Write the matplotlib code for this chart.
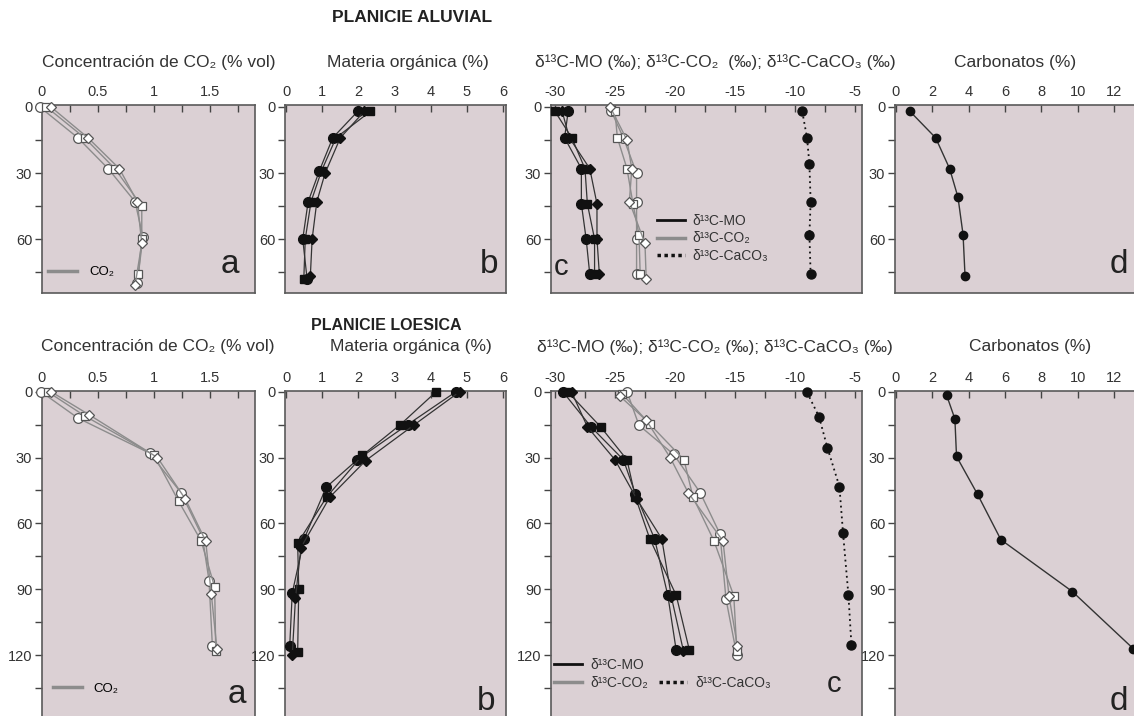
import matplotlib
matplotlib.use('Agg')
import matplotlib.pyplot as plt
from matplotlib.lines import Line2D
from matplotlib.ticker import MultipleLocator

plt.rcParams['font.family'] = ['Liberation Sans', 'DejaVu Sans']
plt.rcParams['axes.unicode_minus'] = False

W, H = 1134, 716

# ---- PLANICIE ALUVIAL (top row) ----
al_co2_depth = [[0, 14, 28, 43, 59, 80], [0, 14, 28, 45, 60, 76], [0, 14, 28, 43, 62, 81]]
al_co2 = [[-0.02, 0.32, 0.59, 0.83, 0.90, 0.85],
          [0.04, 0.38, 0.65, 0.89, 0.89, 0.86],
          [0.08, 0.41, 0.69, 0.85, 0.89, 0.83]]

al_mo_depth = [[2, 14, 29, 43, 60, 78], [2, 14, 29, 43, 60, 78], [2, 14, 30, 43, 60, 77]]
al_mo = [[1.98, 1.29, 0.92, 0.61, 0.46, 0.58],
         [2.33, 1.38, 0.98, 0.69, 0.53, 0.49],
         [2.16, 1.50, 1.08, 0.85, 0.72, 0.67]]

al_d13mo_depth = [[2, 14, 28, 44, 60, 76], [2, 14, 28, 44, 60, 76], [2, 14, 28, 44, 60, 76]]
al_d13mo = [[-28.9, -29.2, -27.8, -27.8, -27.4, -27.1],
            [-30.0, -28.6, -27.5, -27.3, -26.7, -26.7],
            [-29.4, -28.8, -27.1, -26.5, -26.5, -26.3]]

al_d13co2_depth = [[2, 14, 30, 43, 60, 76], [2, 14, 28, 44, 58, 76], [0, 15, 28, 43, 62, 78]]
al_d13co2 = [[-25.3, -24.3, -23.2, -23.2, -23.2, -23.2],
             [-25.0, -24.8, -24.0, -23.5, -23.0, -22.9],
             [-25.4, -24.0, -23.6, -23.8, -22.5, -22.4]]

al_caco3_depth = [2, 14, 26, 43, 58, 76]
al_caco3 = [-9.4, -9.0, -8.8, -8.7, -8.8, -8.7]

al_carb_depth = [2, 14, 28, 41, 58, 77]
al_carb = [0.77, 2.18, 2.95, 3.41, 3.69, 3.80]

# ---- PLANICIE LOESICA (bottom row) ----
lo_co2_depth = [[0, 12, 28, 46, 66, 86, 116], [0, 11, 29, 50, 68, 89, 118], [0, 10.5, 30, 49, 68, 92, 117]]
lo_co2 = [[-0.01, 0.32, 0.96, 1.24, 1.43, 1.49, 1.52],
          [0.05, 0.38, 1.00, 1.22, 1.42, 1.54, 1.55],
          [0.08, 0.42, 1.03, 1.28, 1.46, 1.51, 1.56]]

lo_mo_depth = [[0, 15, 31, 43.5, 67, 91.7, 116], [0, 15, 29, 48, 69, 90, 118.6], [0, 15, 31.4, 48, 71, 94, 120]]
lo_mo = [[4.70, 3.36, 1.97, 1.11, 0.50, 0.17, 0.10],
         [4.15, 3.16, 2.11, 1.12, 0.32, 0.35, 0.32],
         [4.80, 3.55, 2.20, 1.21, 0.41, 0.26, 0.17]]

lo_d13mo_depth = [[0.3, 16, 31, 46.5, 67, 92.7, 117.7], [0.3, 16, 31, 48, 67, 92.7, 117.7], [0.3, 16, 31, 48.7, 67, 93.5, 118]]
lo_d13mo = [[-29.3, -27.0, -24.3, -23.3, -21.7, -20.6, -19.9],
            [-28.9, -26.2, -24.0, -23.3, -22.1, -19.9, -18.8],
            [-28.6, -27.3, -25.0, -23.2, -21.1, -20.3, -19.3]]

lo_d13co2_depth = [[0, 15.3, 28.6, 46, 64.8, 94.5, 120], [1, 14.8, 31, 48, 68, 93, 118], [2, 13, 30, 46, 68, 93, 116]]
lo_d13co2 = [[-24.0, -23.0, -20.1, -17.9, -16.25, -15.75, -14.85],
             [-24.4, -22.1, -19.25, -18.5, -16.75, -15.1, -14.85],
             [-24.6, -22.4, -20.4, -18.9, -16.0, -15.5, -14.8]]

lo_caco3_depth = [0.3, 11.4, 25.6, 43.2, 64.4, 92.7, 115.4]
lo_caco3 = [-9.0, -8.0, -7.3, -6.3, -6.0, -5.55, -5.3]

lo_carb_depth = [1.5, 12.4, 29.5, 46.8, 67.4, 91, 117]
lo_carb = [2.78, 3.24, 3.33, 4.49, 5.77, 9.7, 13.05]

markers = ['o', 's', 'D']
msizes = [7, 6, 5.5]
BG = '#dbd0d4'
TXT = '#333333'


def px_axes(fig, left, top, right, bottom):
    return fig.add_axes([left / W, 1 - bottom / H, (right - left) / W, (bottom - top) / H])


def white_profiles(ax, depths, values):
    for d, v, m, s in zip(depths, values, markers, msizes):
        ax.plot(v, d, color='#8c8c8c', lw=1.0, marker=m, ms=s, mfc='white',
                mec='#555555', mew=0.9, clip_on=False, zorder=3)


def black_profiles(ax, depths, values):
    for d, v, m, s in zip(depths, values, markers, msizes):
        ax.plot(v, d, color='#333333', lw=0.9, marker=m, ms=s, mfc='#111111',
                mec='#111111', clip_on=False, zorder=3)


def style_axes(ax, xlim, ylim, xmaj, xmin, ymaj, ymin):
    ax.set_facecolor(BG)
    ax.set_xlim(*xlim)
    ax.set_ylim(*ylim)
    ax.xaxis.tick_top()
    ax.xaxis.set_major_locator(MultipleLocator(xmaj))
    if xmin:
        ax.xaxis.set_minor_locator(MultipleLocator(xmin))
    ax.yaxis.set_major_locator(MultipleLocator(ymaj))
    ax.yaxis.set_minor_locator(MultipleLocator(ymin))
    ax.tick_params(axis='x', which='both', direction='in', length=5, width=1,
                   color='#444444', labelsize=10.5, labelcolor=TXT, pad=4)
    ax.tick_params(axis='y', which='both', direction='out', length=5, width=1,
                   color='#444444', labelsize=10.5, labelcolor=TXT, pad=2)
    for sp in ax.spines.values():
        sp.set_color('#5a5a5a')
        sp.set_linewidth(1.2)


def letter(ax, txt, x, y, size=24):
    ax.text(x, y, txt, transform=ax.transAxes, fontsize=size, color='#222222',
            ha='left', va='baseline')


fig = plt.figure(figsize=(W / 100, H / 100), dpi=100)
fig.patch.set_facecolor('white')

rows = [
    dict(top=105, bottom=293, ylim=(84.5, -0.9), title_y=62, head='PLANICIE ALUVIAL', head_x=412, head_y=17,
         head_size=12.5,
         co2=(al_co2_depth, al_co2), mo=(al_mo_depth, al_mo), d13mo=(al_d13mo_depth, al_d13mo),
         d13co2=(al_d13co2_depth, al_d13co2), caco3=(al_caco3_depth, al_caco3), carb=(al_carb_depth, al_carb),
         title_x=[159, 408, 715, 1015],
         c_title='δ¹³C-MO (‰); δ¹³C-CO₂  (‰); δ¹³C-CaCO₃ (‰)'),
    dict(top=391, bottom=718, ylim=(148.6, -0.3), title_y=347, head='PLANICIE LOESICA', head_x=386, head_y=325,
         head_size=11.5,
         co2=(lo_co2_depth, lo_co2), mo=(lo_mo_depth, lo_mo), d13mo=(lo_d13mo_depth, lo_d13mo),
         d13co2=(lo_d13co2_depth, lo_d13co2), caco3=(lo_caco3_depth, lo_caco3), carb=(lo_carb_depth, lo_carb),
         title_x=[158, 411, 715, 1030],
         c_title='δ¹³C-MO (‰); δ¹³C-CO₂ (‰); δ¹³C-CaCO₃ (‰)'),
]

for i, r in enumerate(rows):
    top, bot = r['top'], r['bottom']
    fig.text(r['head_x'] / W, 1 - r['head_y'] / H, r['head'], ha='center', va='center',
             fontsize=r['head_size'], fontweight='bold', color='#222222')
    titles = ['Concentración de CO₂ (% vol)', 'Materia orgánica (%)', r['c_title'], 'Carbonatos (%)']
    for tx, tt in zip(r['title_x'], titles):
        fig.text(tx / W, 1 - r['title_y'] / H, tt, ha='center', va='center', fontsize=12.5, color=TXT)

    # panel a: CO2 concentration
    ax = px_axes(fig, 42, top, 255, bot)
    style_axes(ax, (0, 1.90), r['ylim'], 0.5, 0.25, 30, 15)
    ax.set_xticks([0, 0.5, 1, 1.5])
    ax.set_xticklabels(['0', '0.5', '1', '1.5'])
    white_profiles(ax, *r['co2'])
    h = [Line2D([], [], color='#8c8c8c', lw=2.5)]
    if i == 0:
        ax.legend(h, ['CO₂'], loc='center left', bbox_to_anchor=(0.03, 0.11), frameon=False,
                  fontsize=9.5, handlelength=2.2, handletextpad=0.9, borderpad=0, borderaxespad=0)
        letter(ax, 'a', 0.84, 0.106)
    else:
        ax.legend(h, ['CO₂'], loc='center left', bbox_to_anchor=(0.05, 0.09), frameon=False,
                  fontsize=9.5, handlelength=2.2, handletextpad=0.9, borderpad=0, borderaxespad=0)
        letter(ax, 'a', 0.873, 0.046)

    # panel b: organic matter
    ax = px_axes(fig, 285, top, 506, bot)
    style_axes(ax, (-0.03, 6.08), r['ylim'], 1, None, 30, 15)
    black_profiles(ax, *r['mo'])
    letter(ax, 'b', 0.88 if i == 0 else 0.87, 0.106 if i == 0 else 0.024)

    # panel c: d13C
    ax = px_axes(fig, 551, top, 862, bot)
    style_axes(ax, (-30.33, -4.42), r['ylim'], 5, 2.5, 30, 15)
    black_profiles(ax, *r['d13mo'])
    white_profiles(ax, *r['d13co2'])
    ax.plot(r['caco3'][1], r['caco3'][0], color='#111111', lw=1.3, ls=(0, (1, 2)),
            marker='o', ms=6.5, mfc='#111111', mec='#111111', clip_on=False, zorder=3)
    h_mo = Line2D([], [], color='#111111', lw=2)
    h_co2 = Line2D([], [], color='#8c8c8c', lw=2.5)
    h_ca = Line2D([], [], color='#111111', lw=2.5, ls=(0, (1, 1)))
    if i == 0:
        ax.legend([h_mo, h_co2, h_ca], ['δ¹³C-MO', 'δ¹³C-CO₂', 'δ¹³C-CaCO₃'], loc='center left',
                  bbox_to_anchor=(0.34, 0.29), frameon=False, fontsize=10, handlelength=2.0,
                  handletextpad=0.6, labelspacing=0.25, borderpad=0, borderaxespad=0,
                  labelcolor='#333333')
        letter(ax, 'c', 0.01, 0.096, size=21)
    else:
        blank = Line2D([], [], color='none')
        ax.legend([h_mo, h_co2, blank, h_ca], ['δ¹³C-MO', 'δ¹³C-CO₂', '', 'δ¹³C-CaCO₃'], ncol=2,
                  loc='center left', bbox_to_anchor=(0.01, 0.135), frameon=False, fontsize=10,
                  handlelength=2.0, handletextpad=0.6, labelspacing=0.25, columnspacing=0.8,
                  borderpad=0, borderaxespad=0, labelcolor='#333333')
        letter(ax, 'c', 0.887, 0.08, size=21)

    # panel d: carbonates
    ax = px_axes(fig, 895, top, 1145, bot)
    style_axes(ax, (-0.055, 13.7), r['ylim'], 2, None, 30, 15)
    ax.plot(r['carb'][1], r['carb'][0], color='#333333', lw=1.0, marker='o', ms=6,
            mfc='#111111', mec='#111111', clip_on=False, zorder=3)
    letter(ax, 'd', 0.86, 0.106 if i == 0 else 0.025)

fig.savefig('out.png', dpi=100)
